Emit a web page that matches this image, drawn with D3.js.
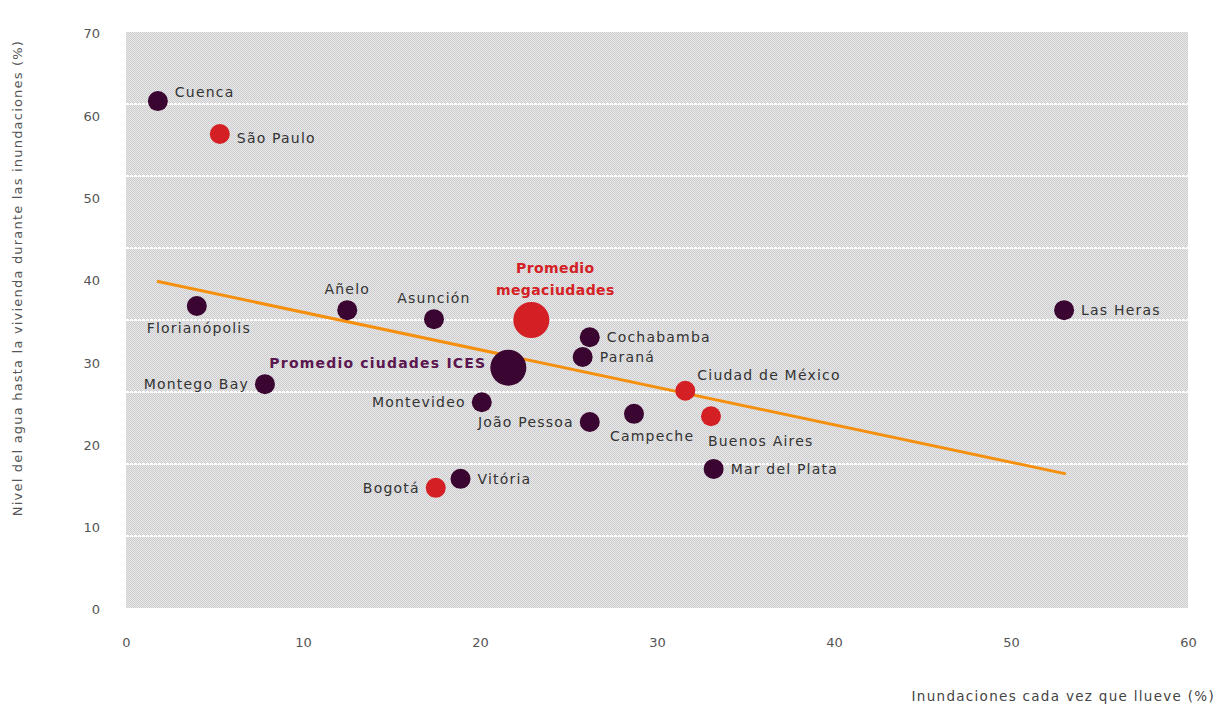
<!DOCTYPE html>
<html><head><meta charset="utf-8">
<script src="https://cdn.jsdelivr.net/npm/d3@7"></script>
<style>body{margin:0;background:#fff}svg{display:block}</style>
</head><body>
<svg id="c" width="1220" height="711"></svg>
<script>
const cities = ["Cuenca","São Paulo","Florianópolis","Añelo","Asunción","Promedio megaciudades","Cochabamba","Paraná","Promedio ciudades ICES","Montego Bay","Montevideo","Ciudad de México","Buenos Aires","Campeche","João Pessoa","Mar del Plata","Vitória","Bogotá","Las Heras"];
const floodFreq = [1.8,5.3,4.0,12.5,17.4,22.9,26.2,25.8,21.6,7.85,20.1,31.6,33.05,28.7,26.2,33.2,18.9,17.5,53.0];
const waterLevel = [61.6,57.6,36.7,36.2,35.1,35.0,32.9,30.5,29.2,27.2,25.0,26.4,23.3,23.6,22.6,16.9,15.7,14.6,36.2];
const cityType = ["ices","mega","ices","ices","ices","avgMega","ices","ices","avgIces","ices","ices","mega","mega","ices","ices","ices","ices","mega","ices"];
const labelPos = ["rightUp","rightDown","below","above","above","above2","right","right","leftBold","left","left","aboveRight","belowRight","belowLeft","left","right","right","left","right"];
const trendX = [1.75,53.1];
const trendY = [39.7,16.3];
const xTicks = [0,10,20,30,40,50,60];
const yTicks = [0,10,20,30,40,50,60,70];
const gridValues = [8.75,17.5,26.25,35,43.75,52.5,61.25];

const svg = d3.select("#c");
const L=126,R=1188,T=32,B=608;
const x = d3.scaleLinear().domain([0,60]).range([L,R]);
const y = d3.scaleLinear().domain([0,70]).range([B,T]);

const defs = svg.append("defs");
const pat = defs.append("pattern").attr("id","chk").attr("width",2).attr("height",2).attr("patternUnits","userSpaceOnUse");
pat.append("rect").attr("width",2).attr("height",2).attr("fill","#e8e8ea");
pat.append("rect").attr("width",1).attr("height",1).attr("fill","#cdcdcd");
pat.append("rect").attr("x",1).attr("y",1).attr("width",1).attr("height",1).attr("fill","#cdcdcd");

svg.append("rect").attr("x",L).attr("y",T).attr("width",R-L).attr("height",B-T).attr("fill","url(#chk)");

svg.append("g").selectAll("line").data(gridValues).join("line")
  .attr("x1",L).attr("x2",R).attr("y1",d=>y(d)).attr("y2",d=>y(d))
  .attr("stroke","#fff").attr("stroke-width",2).attr("stroke-dasharray","3,1");

const font = "DejaVu Sans, sans-serif";
const gx = svg.append("g").attr("transform",`translate(0,${B})`)
  .call(d3.axisBottom(x).tickValues(xTicks).tickSize(0).tickPadding(30).tickFormat(d3.format("d")));
gx.select(".domain").remove();
gx.selectAll("text").attr("font-family",font).attr("font-size",13).attr("fill","#555");

const gy = svg.append("g").attr("transform",`translate(${L},0)`)
  .call(d3.axisLeft(y).tickValues(yTicks).tickSize(0).tickPadding(26).tickFormat(d3.format("d")));
gy.select(".domain").remove();
gy.selectAll("text").attr("font-family",font).attr("font-size",13).attr("fill","#555").attr("dy","0.45em");

svg.append("text").attr("x",1215).attr("y",701).attr("text-anchor","end")
  .attr("font-family",font).attr("font-size",13.5).attr("fill","#444").attr("letter-spacing",1.3)
  .text("Inundaciones cada vez que llueve (%)");
svg.append("text").attr("transform","translate(22,278) rotate(-90)").attr("text-anchor","middle")
  .attr("font-family",font).attr("font-size",13).attr("fill","#555").attr("letter-spacing",1.2)
  .text("Nivel del agua hasta la vivienda durante las inundaciones (%)");

// trend line
svg.append("line").attr("x1",x(trendX[0])).attr("y1",y(trendY[0])).attr("x2",x(trendX[1])).attr("y2",y(trendY[1]))
  .attr("stroke","#f5900f").attr("stroke-width",3);

const data = cities.map((c,i)=>({c,fx:floodFreq[i],wl:waterLevel[i],t:cityType[i],p:labelPos[i]}));
const color = t => (t==="mega"||t==="avgMega") ? "#d42024" : "#3a0530";
const rad = t => (t==="avgMega"||t==="avgIces") ? 18 : 10;

svg.append("g").selectAll("circle").data(data).join("circle")
  .attr("cx",d=>x(d.fx)).attr("cy",d=>y(d.wl)).attr("r",d=>rad(d.t)).attr("fill",d=>color(d.t));

const lg = svg.append("g").attr("font-family",font).attr("font-size",14).attr("fill","#333");
data.forEach(d=>{
  const cx=x(d.fx), cy=y(d.wl);
  let tx=cx, ty=cy, anchor="start";
  const t = lg.append("text").attr("letter-spacing",1.2);
  if(d.p==="right"){tx=cx+17; ty=cy+5;}
  else if(d.p==="rightUp"){tx=cx+17; ty=cy-4;}
  else if(d.p==="rightDown"){tx=cx+17; ty=cy+9;}
  else if(d.p==="left"){tx=cx-16; ty=cy+5; anchor="end";}
  else if(d.p==="above"){ty=cy-16; anchor="middle";}
  else if(d.p==="below"){tx=cx+2; ty=cy+27; anchor="middle";}
  else if(d.p==="aboveRight"){tx=cx+12; ty=cy-11;}
  else if(d.p==="belowRight"){tx=cx-3; ty=cy+30;}
  else if(d.p==="belowLeft"){tx=cx-24; ty=cy+27;}
  else if(d.p==="leftBold"){tx=cx-22; ty=cy+0; anchor="end";
    t.attr("font-weight","bold").attr("fill","#5b1650").attr("font-size",14).attr("letter-spacing",1.2);}
  else if(d.p==="above2"){
    t.attr("font-weight","bold").attr("fill","#d42024").attr("text-anchor","middle").attr("letter-spacing",0.4);
    t.append("tspan").attr("x",cx+24).attr("y",cy-47).text("Promedio");
    t.append("tspan").attr("x",cx+24).attr("y",cy-25).text("megaciudades");
    return;
  }
  t.attr("x",tx).attr("y",ty).attr("text-anchor",anchor).text(d.c);
});
</script>
</body></html>
